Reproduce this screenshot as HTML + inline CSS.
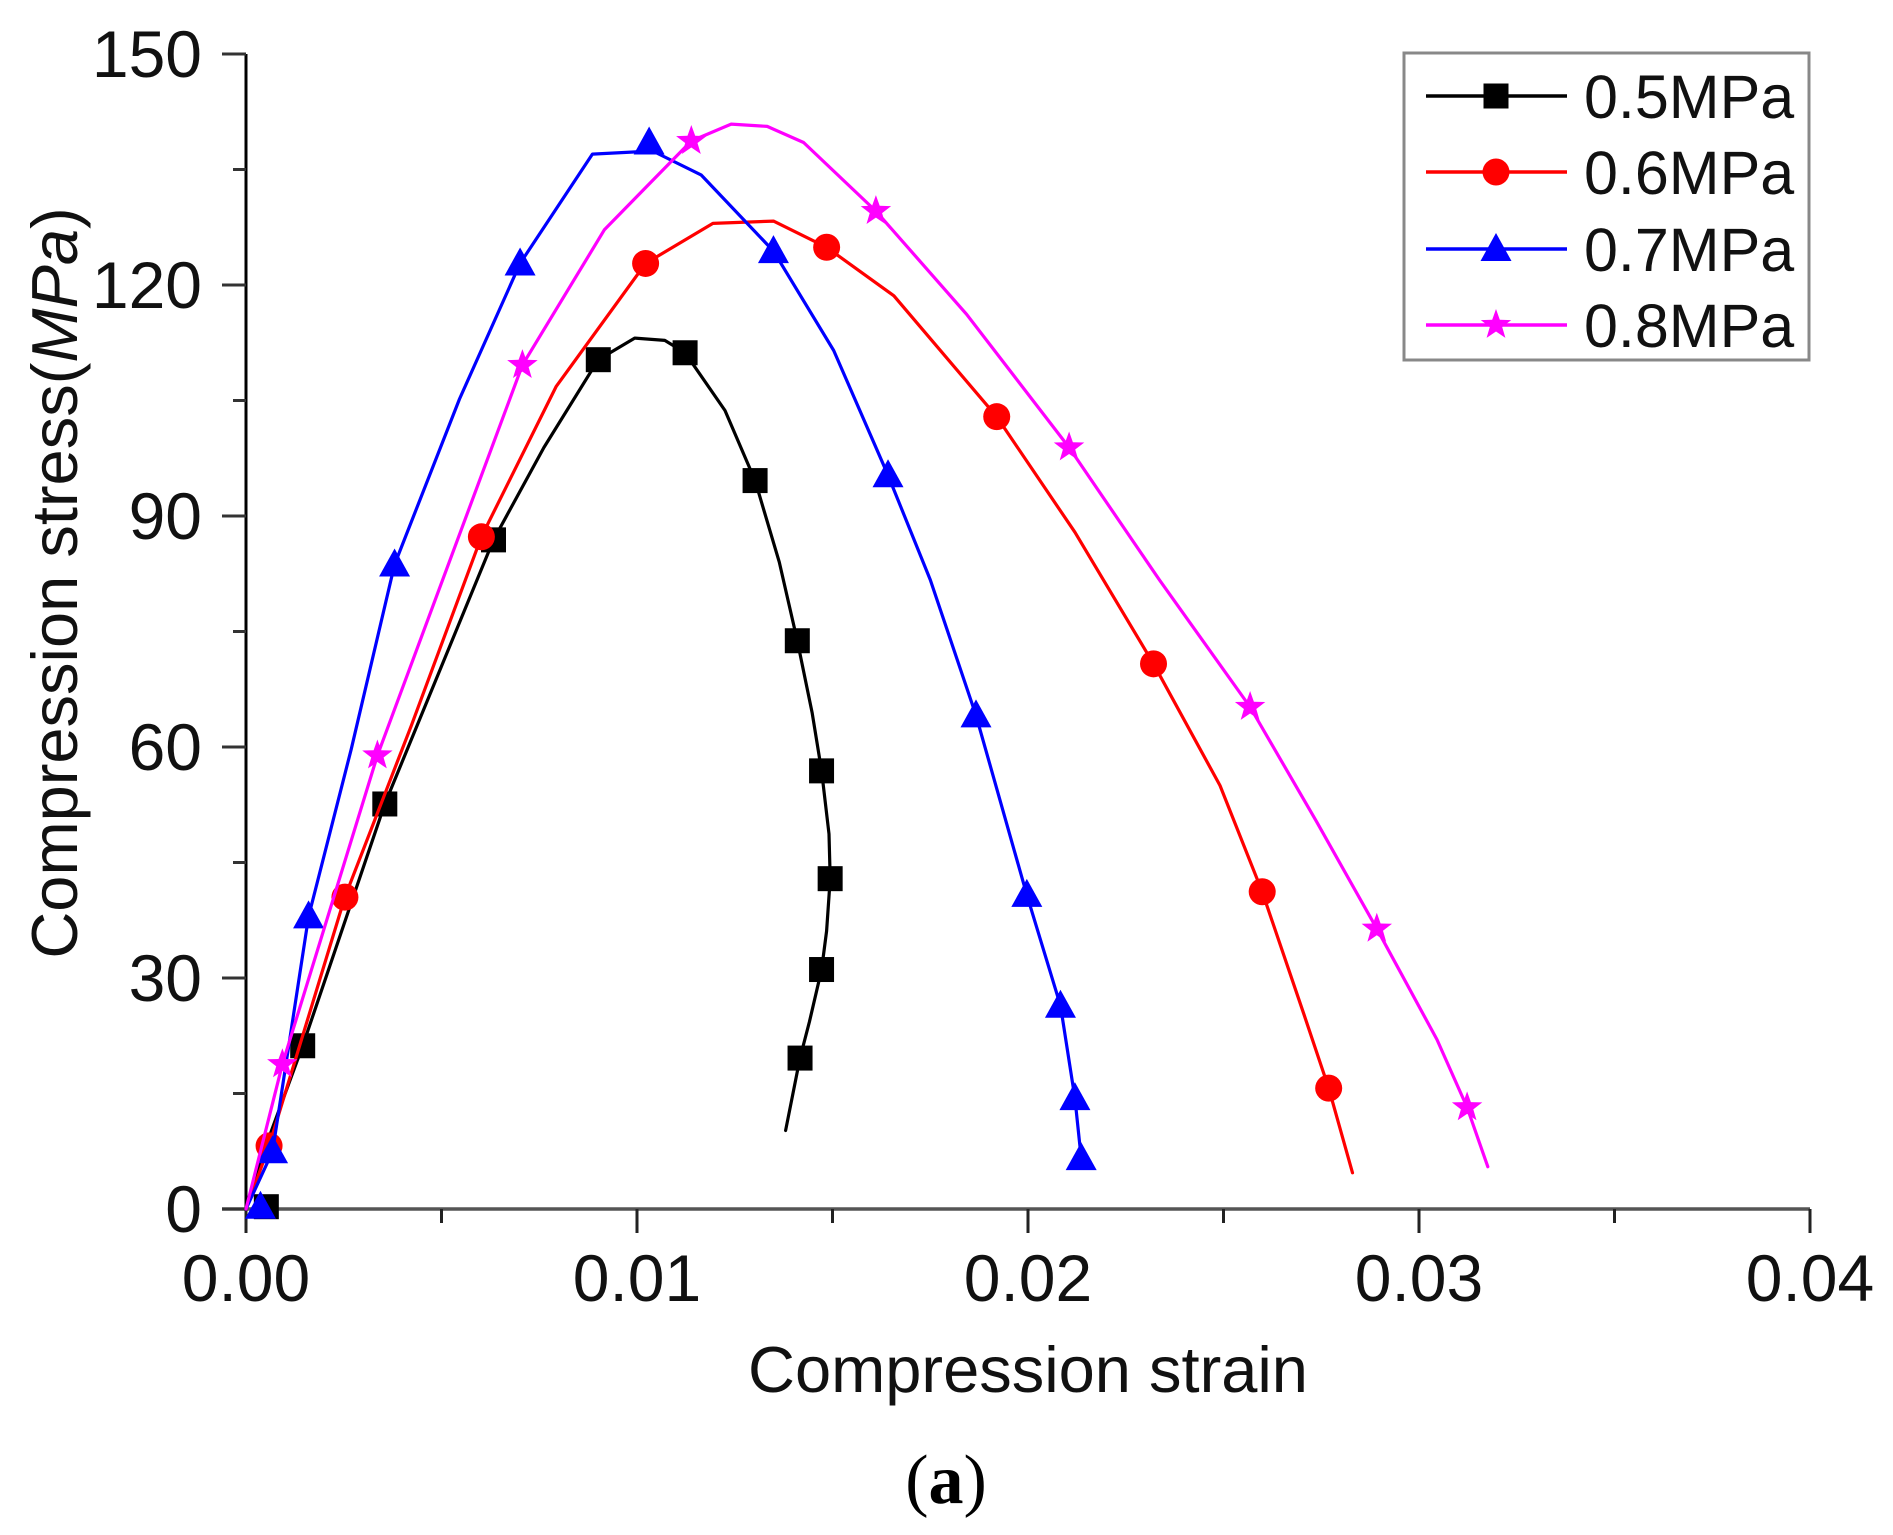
<!DOCTYPE html>
<html><head><meta charset="utf-8"><style>
html,body{margin:0;padding:0;background:#fff;width:1893px;height:1535px;overflow:hidden}
svg{display:block}
</style></head><body>
<svg id="chart" width="1893" height="1535" xmlns="http://www.w3.org/2000/svg" font-family="Liberation Sans, Arial, sans-serif"></svg>
<script>
const xTicks=[0,0.01,0.02,0.03,0.04];
const xTickLabels=["0.00","0.01","0.02","0.03","0.04"];
const yTicks=[0,30,60,90,120,150];
const yTickLabels=["0","30","60","90","120","150"];
const seriesNames=["0.5MPa","0.6MPa","0.7MPa","0.8MPa"];
const s05x=[0,0.00037,0.00145,0.00355,0.00633,0.00762,0.00901,0.00994,0.01071,0.01123,0.01225,0.01302,0.01364,0.0141,0.01448,0.01472,0.01491,0.01494,0.01485,0.01472,0.01441,0.01417,0.0138];
const s05y=[0,6.3,21.2,52.6,86.9,98.9,110.3,113.1,112.8,111.2,103.7,94.6,84.0,73.8,64.4,56.9,48.7,42.9,36.1,31.1,24.3,19.6,10.2];
const m05x=[0.00052,0.00145,0.00355,0.00633,0.00901,0.01123,0.01302,0.0141,0.01472,0.01494,0.01472,0.01417];
const m05y=[0.3,21.2,52.6,86.9,110.3,111.2,94.6,73.8,56.9,42.9,31.1,19.6];
const s06x=[0,0.00059,0.00253,0.00423,0.00602,0.00793,0.01022,0.01194,0.01349,0.01485,0.01657,0.0192,0.0212,0.02321,0.02491,0.02599,0.02707,0.02769,0.0283];
const s06y=[0,8.2,40.5,62.8,87.3,106.8,122.8,128.0,128.3,124.9,118.6,102.9,87.9,70.8,55.0,41.2,25.1,15.7,4.7];
const m06x=[0.00059,0.00253,0.00602,0.01022,0.01485,0.0192,0.02321,0.02599,0.02769];
const m06y=[8.2,40.5,87.3,122.8,124.9,102.9,70.8,41.2,15.7];
const s07x=[0,0.00068,0.0016,0.00269,0.0038,0.00546,0.00701,0.00886,0.0104,0.01164,0.01349,0.01503,0.01642,0.0175,0.01867,0.01997,0.02083,0.0212,0.02136];
const s07y=[0,7.5,38.0,59.7,83.7,105.2,122.8,137.0,137.4,134.3,124.4,111.5,95.3,81.7,64.1,40.8,26.4,14.4,6.6];
const m07x=[0.00037,0.00068,0.0016,0.0038,0.00701,0.01031,0.01349,0.01642,0.01867,0.01997,0.02083,0.0212,0.02136];
const m07y=[0.3,7.5,38.0,83.7,122.8,138.5,124.4,95.3,64.1,40.8,26.4,14.4,6.6];
const s08x=[0,0.00093,0.00336,0.00707,0.00917,0.01139,0.01241,0.01333,0.01426,0.01611,0.01843,0.02105,0.02336,0.02568,0.02738,0.02892,0.03046,0.03123,0.03176];
const s08y=[0,18.8,58.9,109.6,127.2,138.7,140.9,140.6,138.5,129.6,116.2,98.9,81.7,65.2,50.3,36.4,22.0,13.2,5.5];
const m08x=[0.00093,0.00336,0.00707,0.01139,0.01611,0.02105,0.02568,0.02892,0.03123];
const m08y=[18.8,58.9,109.6,138.7,129.6,98.9,65.2,36.4,13.2];

const NS="http://www.w3.org/2000/svg";
const svg=document.getElementById('chart');
const X0=246,X1=1810,Y0=1209,Y1=54;
const sx=v=>X0+(v-0)/(0.04)*(X1-X0);
const sy=v=>Y0-(v/150)*(Y0-Y1);
function mk(tag,attrs,parent){const e=document.createElementNS(NS,tag);for(const k in attrs)e.setAttribute(k,attrs[k]);(parent||svg).appendChild(e);return e;}
function marker(type,cx,cy,color,g){
  let e;
  if(type==='square'){e=mk('rect',{x:cx-12.5,y:cy-12.5,width:25,height:25,fill:color},g);}
  else if(type==='circle'){e=mk('circle',{cx:cx,cy:cy,r:13.5,fill:color},g);}
  else if(type==='triangle'){e=mk('polygon',{points:`${cx},${cy-16} ${cx+15.5},${cy+12} ${cx-15.5},${cy+12}`,fill:color},g);}
  else {let p=[];for(let i=0;i<10;i++){const r=i%2?6.5:16;const a=-Math.PI/2+i*Math.PI/5;p.push((cx+r*Math.cos(a)).toFixed(1)+','+(cy+r*Math.sin(a)).toFixed(1));}
    e=mk('polygon',{points:p.join(' '),fill:color},g);}
  return e;
}
const axes=mk('g',{});


mk('line',{x1:X0,y1:Y1,x2:X0,y2:Y0+24,stroke:'#000','stroke-width':3},axes);
mk('line',{x1:X0-24,y1:Y0,x2:X1,y2:Y0,stroke:'#555','stroke-width':3.5},axes);
yTicks.forEach((v,i)=>{
  mk('line',{x1:X0-24,y1:sy(v),x2:X0,y2:sy(v),stroke:'#333','stroke-width':3},axes);
  if(i<yTicks.length-1) mk('line',{x1:X0-13,y1:sy(v+15),x2:X0,y2:sy(v+15),stroke:'#333','stroke-width':3},axes);
  const t=mk('text',{x:202,y:sy(v)+23,'text-anchor':'end','font-size':66,fill:'#111'},axes);
  t.textContent=yTickLabels[i];
  
  
});
xTicks.forEach((v,i)=>{
  mk('line',{x1:sx(v),y1:Y0,x2:sx(v),y2:Y0+24,stroke:'#222','stroke-width':3},axes);
  if(i<xTicks.length-1) mk('line',{x1:sx(v+0.005),y1:Y0,x2:sx(v+0.005),y2:Y0+14,stroke:'#222','stroke-width':3},axes);
  const t=mk('text',{x:sx(v),y:1301,'text-anchor':'middle','font-size':66,fill:'#111'},axes);
  t.textContent=xTickLabels[i];
  
  
});
const xt=mk('text',{x:1028,y:1392,'text-anchor':'middle','font-size':65,fill:'#111'});
xt.textContent='Compression strain';


const yt=mk('text',{x:0,y:0,'text-anchor':'middle','font-size':65,fill:'#111',transform:'translate(77,583) rotate(-90)'});
yt.innerHTML='Compression stress(<tspan font-style="italic">MPa</tspan>)';


const cap=mk('text',{x:946,y:1503,'text-anchor':'middle','font-size':70,'font-family':'Liberation Serif, serif',fill:'#000'});
cap.innerHTML='(<tspan font-weight="bold">a</tspan>)';



const series=[
 {xs:s05x,ys:s05y,mx:m05x,my:m05y,color:'#000',m:'square',name:'series-0-5mpa'},
 {xs:s06x,ys:s06y,mx:m06x,my:m06y,color:'#ff0000',m:'circle',name:'series-0-6mpa'},
 {xs:s07x,ys:s07y,mx:m07x,my:m07y,color:'#0000ff',m:'triangle',name:'series-0-7mpa'},
 {xs:s08x,ys:s08y,mx:m08x,my:m08y,color:'#ff00ff',m:'star',name:'series-0-8mpa'}
];
series.forEach(s=>{
  const g=mk('g',{});
  
  
  const pts=s.xs.map((x,i)=>sx(x).toFixed(1)+','+sy(s.ys[i]).toFixed(1)).join(' ');
  const pl=mk('polyline',{points:pts,fill:'none',stroke:s.color,'stroke-width':3.2,'stroke-linejoin':'round','stroke-linecap':'round'},g);
  
  
  s.mx.forEach((x,i)=>{
    const e=marker(s.m,sx(x),sy(s.my[i]),s.color,g);
    
    
  });
});
const lg=mk('g',{});


mk('rect',{x:1404,y:53,width:405,height:307,fill:'#fff',stroke:'#888','stroke-width':3},lg);
const rowsY=[96,172,249,325];
const mtypes=['square','circle','triangle','star'];
const cols=['#000','#ff0000','#0000ff','#ff00ff'];
seriesNames.forEach((n,i)=>{
  const e=mk('g',{},lg);
  
  
  mk('line',{x1:1426,y1:rowsY[i],x2:1567,y2:rowsY[i],stroke:cols[i],'stroke-width':3.5},e);
  marker(mtypes[i],1496,rowsY[i],cols[i],e);
  const t=mk('text',{x:1584,y:rowsY[i]+22,'font-size':61,fill:'#111'},e);
  t.textContent=n;
});
</script>
</body></html>
